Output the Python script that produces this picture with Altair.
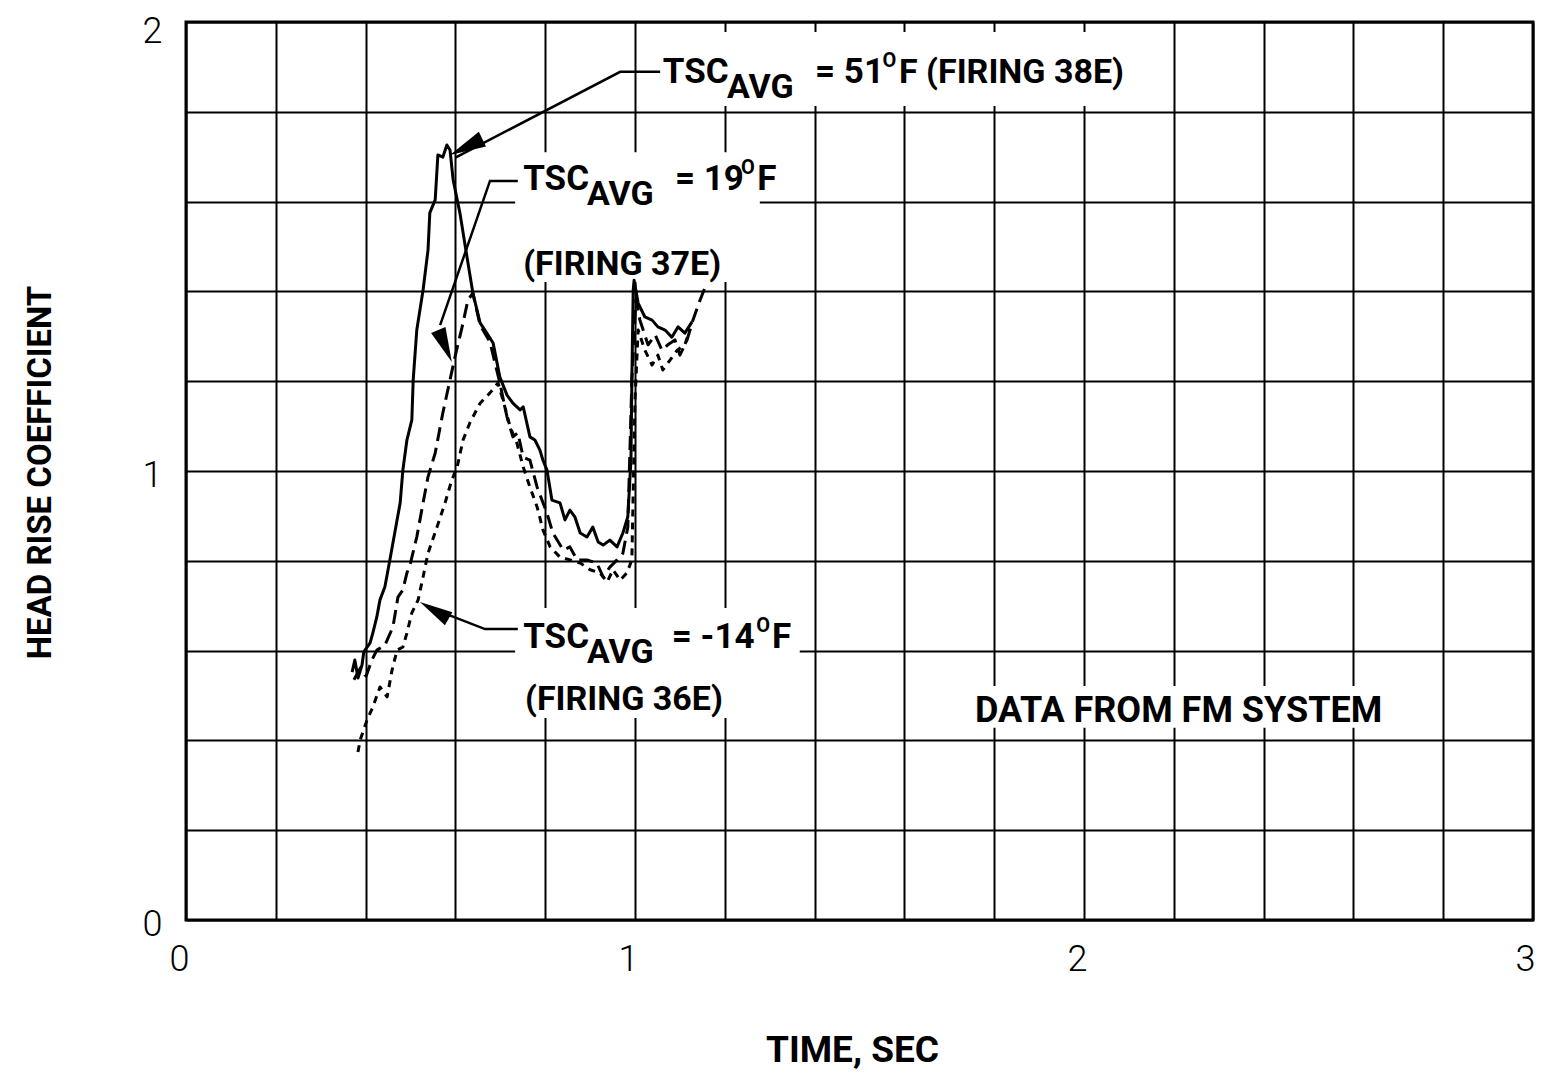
import altair as alt
import pandas as pd

# ---------------- data ----------------
X_GRID = [0.0, 0.2, 0.4, 0.6, 0.8, 1.0, 1.2, 1.4, 1.6, 1.8, 2.0, 2.2, 2.4, 2.6, 2.8, 3.0]
Y_GRID = [0.0, 0.2, 0.4, 0.6, 0.8, 1.0, 1.2, 1.4, 1.6, 1.8, 2.0]

# TSC_AVG = 51 F (firing 38E) - solid
T38 = [0.370, 0.376, 0.383, 0.392, 0.396, 0.410, 0.416, 0.425, 0.432, 0.443, 0.450, 0.454,
       0.477, 0.483, 0.492, 0.503, 0.506, 0.514, 0.528, 0.539, 0.543, 0.555, 0.561, 0.572,
       0.581, 0.588, 0.595, 0.610, 0.628, 0.639, 0.655, 0.670, 0.684, 0.699, 0.715, 0.728,
       0.744, 0.751, 0.766, 0.777, 0.788, 0.795, 0.804, 0.815, 0.833, 0.844, 0.855, 0.866,
       0.878, 0.893, 0.906, 0.918, 0.929, 0.944, 0.960, 0.973, 0.984, 0.991, 0.993, 0.996,
       0.998, 1.007, 1.022, 1.038, 1.051, 1.067, 1.082, 1.096, 1.111, 1.127]
H38 = [0.552, 0.579, 0.539, 0.568, 0.597, 0.617, 0.639, 0.675, 0.713, 0.742, 0.780, 0.802,
       0.929, 1.002, 1.069, 1.114, 1.203, 1.314, 1.403, 1.492, 1.575, 1.604, 1.704, 1.699,
       1.726, 1.715, 1.648, 1.575, 1.463, 1.396, 1.330, 1.307, 1.285, 1.209, 1.169, 1.151,
       1.136, 1.143, 1.076, 1.069, 1.047, 1.024, 1.002, 0.935, 0.929, 0.891, 0.913, 0.898,
       0.862, 0.853, 0.875, 0.842, 0.835, 0.846, 0.831, 0.862, 0.898, 1.024, 1.203, 1.403,
       1.425, 1.374, 1.343, 1.336, 1.321, 1.314, 1.298, 1.321, 1.307, 1.332]

# TSC_AVG = 19 F (firing 37E) - long dashes
T37 = [0.374, 0.388, 0.401, 0.414, 0.425, 0.443, 0.461, 0.472, 0.483, 0.492, 0.499, 0.514,
       0.528, 0.539, 0.555, 0.566, 0.572, 0.588, 0.599, 0.615, 0.628, 0.639, 0.655, 0.677,
       0.699, 0.715, 0.728, 0.739, 0.751, 0.766, 0.782, 0.793, 0.804, 0.817, 0.840, 0.855,
       0.871, 0.893, 0.915, 0.929, 0.944, 0.960, 0.973, 0.984, 0.993, 1.002, 1.011, 1.029,
       1.045, 1.060, 1.073, 1.089, 1.100, 1.116, 1.129, 1.145, 1.160]
H37 = [0.535, 0.561, 0.543, 0.579, 0.601, 0.612, 0.653, 0.719, 0.735, 0.773, 0.791, 0.853,
       0.929, 0.987, 1.040, 1.098, 1.129, 1.203, 1.254, 1.321, 1.381, 1.396, 1.325, 1.287,
       1.196, 1.120, 1.076, 1.085, 1.031, 1.024, 0.964, 0.935, 0.906, 0.862, 0.824, 0.831,
       0.802, 0.802, 0.795, 0.764, 0.786, 0.802, 0.817, 0.875, 1.203, 1.381, 1.336, 1.281,
       1.303, 1.269, 1.281, 1.292, 1.258, 1.292, 1.336, 1.381, 1.419]

# TSC_AVG = -14 F (firing 36E) - short dashes
T36 = [0.383, 0.388, 0.403, 0.416, 0.432, 0.448, 0.459, 0.470, 0.483, 0.492, 0.503, 0.517,
       0.528, 0.539, 0.559, 0.577, 0.592, 0.604, 0.617, 0.633, 0.655, 0.677, 0.695, 0.706,
       0.722, 0.737, 0.751, 0.766, 0.782, 0.795, 0.811, 0.833, 0.855, 0.878, 0.900, 0.922,
       0.938, 0.951, 0.967, 0.982, 0.993, 1.000, 1.007, 1.022, 1.038, 1.051, 1.062, 1.078,
       1.094, 1.111, 1.122]
H36 = [0.374, 0.401, 0.445, 0.474, 0.519, 0.497, 0.557, 0.601, 0.608, 0.639, 0.684, 0.713,
       0.764, 0.817, 0.875, 0.929, 0.980, 1.009, 1.069, 1.109, 1.151, 1.174, 1.196, 1.158,
       1.098, 1.062, 1.009, 0.964, 0.920, 0.869, 0.831, 0.808, 0.802, 0.795, 0.780, 0.773,
       0.753, 0.780, 0.757, 0.773, 0.802, 1.158, 1.314, 1.269, 1.236, 1.258, 1.225, 1.247,
       1.269, 1.281, 1.314]

# ---------------- annotation text ----------------
LBL_TEXT = ["TSC", "AVG", "= 51", "O", "F (FIRING 38E)",
            "TSC", "AVG", "= 19", "O", "F", "(FIRING 37E)",
            "TSC", "AVG", "= -14", "O", "F", "(FIRING 36E)",
            "DATA FROM FM SYSTEM"]
LBL_X = [1.062, 1.205, 1.401, 1.551, 1.588,
         0.751, 0.893, 1.089, 1.236, 1.272, 0.751,
         0.751, 0.893, 1.082, 1.270, 1.305, 0.755,
         1.757]
LBL_Y = [1.864, 1.831, 1.864, 1.899, 1.864,
         1.626, 1.592, 1.626, 1.661, 1.626, 1.437,
         0.606, 0.572, 0.606, 0.641, 0.606, 0.468,
         0.441]
LBL_FS = [35, 34, 35, 20, 34,
          35, 34, 35, 20, 35, 34,
          35, 34, 35, 20, 35, 34,
          36]

# white boxes behind the labels (they interrupt the grid)
BOX_X = [1.033, 0.733, 0.733, 1.742]
BOX_X2 = [2.085, 1.278, 1.367, 2.677]
BOX_Y = [1.813, 1.421, 0.450, 0.428]
BOX_Y2 = [1.978, 1.710, 0.695, 0.521]

# leader lines
LEAD_G = [1, 1, 1, 2, 2, 2, 3, 3, 3]
LEAD_X = [1.056, 0.967, 0.600, 0.739, 0.677, 0.566, 0.739, 0.666, 0.540]
LEAD_Y = [1.889, 1.889, 1.698, 1.646, 1.646, 1.325, 0.648, 0.648, 0.697]

# arrow heads
ARR_X = [0.588, 0.592, 0.521]
ARR_Y = [1.704, 1.243, 0.708]
ARR_ANG = [244, 157, 300]
ARR_SZ = [1300, 1200, 1100]

FONT = "Roboto, Liberation Sans, sans-serif"

xscale = alt.Scale(domain=[0, 3], nice=False, zero=False)
yscale = alt.Scale(domain=[0, 2], nice=False, zero=False)

LABEL_EXPR = "abs(datum.value - round(datum.value)) < 0.001 ? format(datum.value, 'd') : ''"

xaxis = alt.Axis(
    values=X_GRID, grid=True, gridColor="black", gridWidth=2, gridOpacity=1,
    ticks=False, tickSize=0, domain=False,
    labelExpr=LABEL_EXPR,
    labelFont=FONT, labelFontSize=36, labelFontWeight=300, labelColor="black", labelPadding=22,
    labelBaseline="top", labelFlush=False, labelOverlap=False,
    labelAlign=alt.ExprRef("datum.value > 2.9 ? 'right' : 'center'"),
    labelOffset=alt.ExprRef("datum.value > 2.9 ? 2 : -7"),
    title="TIME, SEC", titleFont=FONT, titleFontSize=37, titleFontWeight="bold",
    titleColor="black", titleX=666, titleY=130, titleBaseline="middle",
)
yaxis = alt.Axis(
    values=Y_GRID, grid=True, gridColor="black", gridWidth=2, gridOpacity=1,
    ticks=False, tickSize=0, domain=False,
    labelExpr=LABEL_EXPR,
    labelFont=FONT, labelFontSize=36, labelFontWeight=300, labelColor="black", labelPadding=24,
    labelBaseline="middle", labelFlush=False, labelOverlap=False,
    labelOffset=alt.ExprRef("datum.value > 1.9 ? 9 : 4"),
    title="HEAD RISE COEFFICIENT", titleFont=FONT, titleFontSize=33, titleFontWeight="bold",
    titleColor="black", titleX=-146, titleY=450, titleAngle=270,
    titleAlign="center", titleBaseline="middle",
)


def X(field):
    return alt.X(field, scale=xscale, axis=xaxis)


def Y(field):
    return alt.Y(field, scale=yscale, axis=yaxis)


def curve(ts, hs, dash=None):
    df = pd.DataFrame({"x": ts, "y": hs, "ord": list(range(len(ts)))})
    kw = dict(color="black", strokeWidth=3, strokeJoin="round", strokeCap="butt")
    if dash:
        kw["strokeDash"] = dash
    return alt.Chart(df).mark_line(**kw).encode(
        x=X("x:Q"), y=Y("y:Q"), order=alt.Order("ord:Q"),
    )


boxes = alt.Chart(pd.DataFrame({"x": BOX_X, "x2": BOX_X2, "y": BOX_Y, "y2": BOX_Y2})).mark_rect(
    color="white", opacity=1
).encode(x=X("x:Q"), x2="x2:Q", y=Y("y:Q"), y2="y2:Q")

c38 = curve(T38, H38)
c37 = curve(T37, H37, dash=[14, 7])
c36 = curve(T36, H36, dash=[7, 6])

lead_df = pd.DataFrame({"g": LEAD_G, "x": LEAD_X, "y": LEAD_Y, "ord": list(range(len(LEAD_X)))})
leaders = alt.Chart(lead_df).mark_line(color="black", strokeWidth=2.5).encode(
    x=X("x:Q"), y=Y("y:Q"), detail="g:N", order=alt.Order("ord:Q"),
)

ARROW_PATH = "M0,0L-0.45,2L0.45,2Z"
arrows = alt.Chart(pd.DataFrame({"x": ARR_X, "y": ARR_Y, "a": ARR_ANG, "s": ARR_SZ})).mark_point(
    shape=ARROW_PATH, filled=True, color="black", opacity=1, strokeWidth=0
).encode(
    x=X("x:Q"), y=Y("y:Q"),
    angle=alt.Angle("a:Q", scale=None),
    size=alt.Size("s:Q", scale=None, legend=None),
)

labels = alt.Chart(pd.DataFrame({"txt": LBL_TEXT, "x": LBL_X, "y": LBL_Y, "fs": LBL_FS})).mark_text(
    align="left", baseline="alphabetic", font=FONT, fontWeight="bold", color="black"
).encode(
    x=X("x:Q"), y=Y("y:Q"),
    text="txt:N",
    size=alt.Size("fs:Q", scale=None, legend=None),
)

chart = alt.layer(boxes, c38, c37, c36, leaders, arrows, labels).properties(
    width=1347, height=898,
    autosize=alt.AutoSizeParams(type="none"),
    padding={"left": 178, "top": 14, "right": 2, "bottom": 150},
    background="white",
).configure_view(stroke="black", strokeWidth=3)

chart.save("out.html", embed_options={"renderer": "svg", "actions": False})
